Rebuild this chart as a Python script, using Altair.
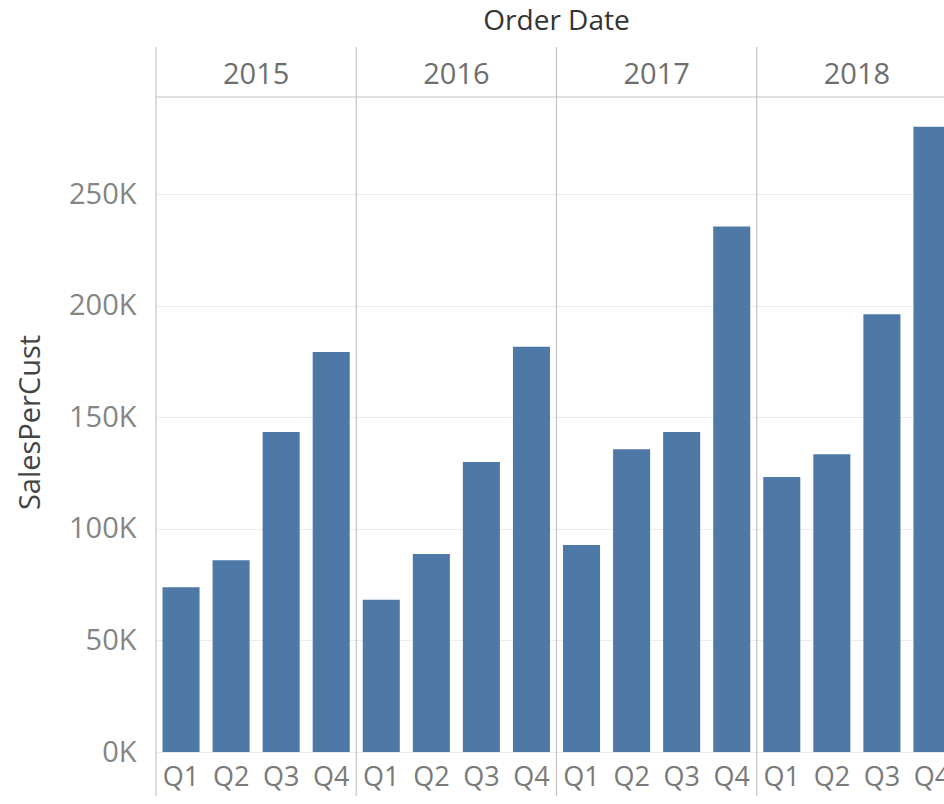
import altair as alt
import pandas as pd

# ---- data ----
years = ["2015", "2016", "2017", "2018"]
quarters = ["Q1", "Q2", "Q3", "Q4"]
sales_2015 = [73900, 86000, 143500, 179400]
sales_2016 = [68300, 88800, 130000, 181700]
sales_2017 = [92800, 135700, 143500, 235600]
sales_2018 = [123300, 133500, 196300, 280400]
y_ticks = [0, 50000, 100000, 150000, 200000, 250000]
header_title = "Order Date"
y_title = "SalesPerCust"

series = [sales_2015, sales_2016, sales_2017, sales_2018]
rows = []
for yr, vals in zip(years, series):
    for q, v in zip(quarters, vals):
        rows.append({"year": yr, "quarter": q, "key": f"{yr} {q}", "sales": v})
df = pd.DataFrame(rows)
keys = list(df["key"])
years_df = pd.DataFrame({"year": years})
title_df = pd.DataFrame({"label": [header_title]})

FONT = "Open Sans"
W = 788      # visible plot width (cropped like the reference)
H = 655
SPAN = 801   # full width of the four year panels

year_scale = alt.Scale(type="band", domain=years, range=[0, SPAN],
                       paddingInner=0, paddingOuter=0)

bars = alt.Chart(df).mark_bar(color="#4e79a7", clip=True).encode(
    x=alt.X("key:N", sort=keys,
            scale=alt.Scale(domain=keys, range=[0, SPAN],
                            paddingInner=0.26, paddingOuter=0.13),
            axis=alt.Axis(title=None, labelExpr="substring(datum.label, 5)",
                          labelFont=FONT, labelFontSize=27, labelColor="#7a7a7a",
                          labelPadding=12, ticks=False, domain=False,
                          labelAngle=0, grid=False)),
    y=alt.Y("sales:Q",
            scale=alt.Scale(domain=[0, 293700], nice=False, zero=True),
            axis=alt.Axis(title=y_title, values=y_ticks,
                          labelExpr="(datum.value / 1000) + 'K'",
                          labelFont=FONT, labelFontSize=29, labelColor="#858585",
                          labelPadding=20, ticks=False, tickSize=0, domain=False,
                          grid=True, gridColor="#ececec", gridWidth=1,
                          titleFont=FONT, titleFontSize=29, titleFontWeight="normal",
                          titleColor="#444444", titleAngle=-90, titleAlign="center",
                          titleBaseline="middle", titleX=-126, titleY=325)),
)

rules = alt.Chart(years_df).mark_rule(color="#c4c4c4", strokeWidth=1.2).encode(
    x=alt.X("year:N", scale=year_scale, axis=None, bandPosition=0),
    y=alt.value(-50),
    y2=alt.value(720),
)

header_line = alt.Chart(title_df).mark_rule(color="#c4c4c4", strokeWidth=1.2).encode(
    x=alt.value(0), x2=alt.value(W), y=alt.value(0)
)

year_text = alt.Chart(years_df).mark_text(
    font=FONT, fontSize=29, color="#6e6e6e", baseline="middle"
).encode(
    x=alt.X("year:N", scale=year_scale, axis=None, bandPosition=0.5),
    y=alt.value(-22),
    text="year:N",
)

title_text = alt.Chart(title_df).mark_text(
    font=FONT, fontSize=28, color="#333333", baseline="middle"
).encode(
    x=alt.value(SPAN / 2), y=alt.value(-75), text="label:N"
)

chart = alt.layer(bars, rules, header_line, year_text, title_text).resolve_scale(
    x="independent"
).properties(
    width=W, height=H,
    autosize=alt.AutoSizeParams(type="none"),
    padding={"left": 156, "top": 97, "right": 0, "bottom": 44},
).configure_view(stroke=None)

chart.save("out.html", embed_options={"renderer": "svg", "actions": False})
